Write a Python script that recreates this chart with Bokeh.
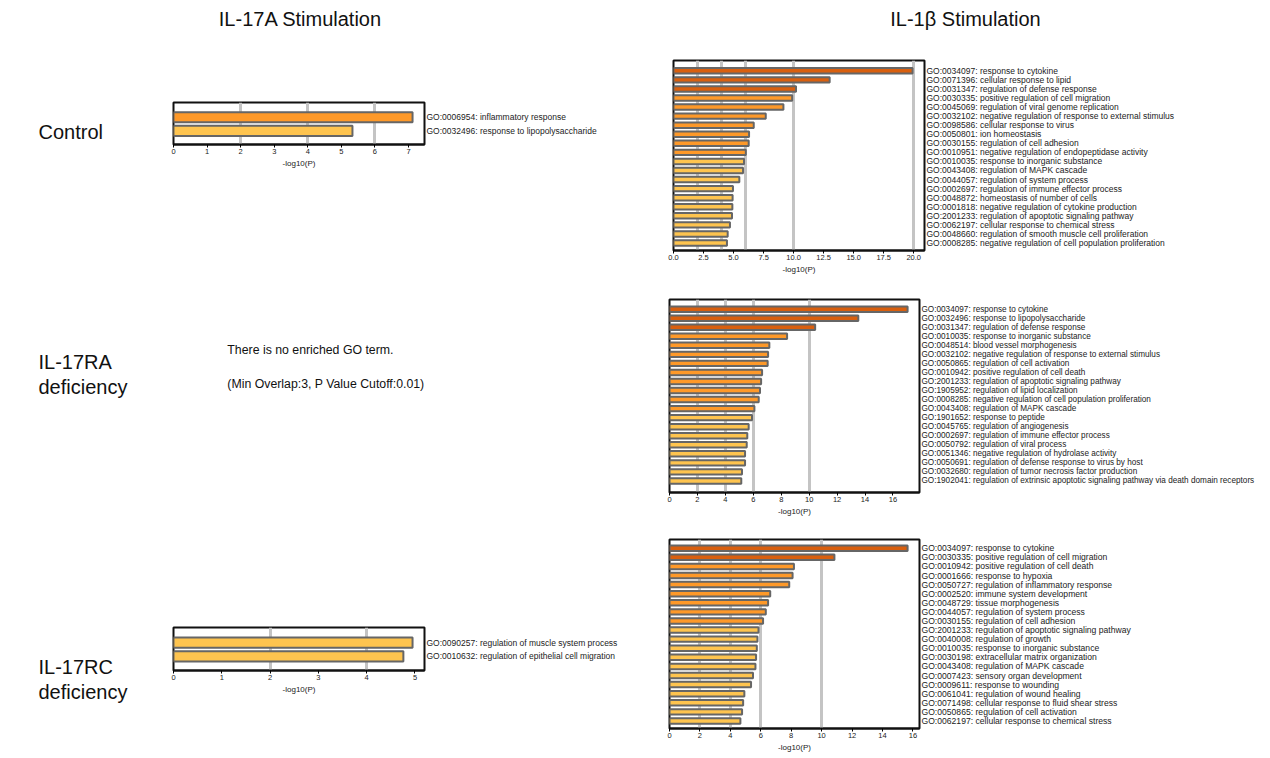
from bokeh.plotting import figure
from bokeh.layouts import row, column
from bokeh.models import (ColumnDataSource, Range1d, FixedTicker, Spacer,
                          SingleIntervalTicker, NumeralTickFormatter)
from bokeh.core.properties import value
from bokeh.embed import file_html
from bokeh.resources import INLINE

FONT = "Liberation Sans"

# ---------------- data ----------------
titles = ["IL-17A Stimulation", "IL-1β Stimulation"]
row_label_lines = ["Control", "IL-17RA", "deficiency", "IL-17RC", "deficiency"]
no_term_msg = ["There is no enriched GO term.", "(Min Overlap:3, P Value Cutoff:0.01)"]
axis_title = "-log10(P)"
grid_marks = [2, 4, 6, 10, 20]

ctrl_terms = ["GO:0006954: inflammatory response",
              "GO:0032496: response to lipopolysaccharide"]
ctrl_vals = [7.12, 5.33]

rc_terms = ["GO:0090257: regulation of muscle system process",
            "GO:0010632: regulation of epithelial cell migration"]
rc_vals = [4.95, 4.76]

il1b_ctrl_terms = [
    "GO:0034097: response to cytokine",
    "GO:0071396: cellular response to lipid",
    "GO:0031347: regulation of defense response",
    "GO:0030335: positive regulation of cell migration",
    "GO:0045069: regulation of viral genome replication",
    "GO:0032102: negative regulation of response to external stimulus",
    "GO:0098586: cellular response to virus",
    "GO:0050801: ion homeostasis",
    "GO:0030155: regulation of cell adhesion",
    "GO:0010951: negative regulation of endopeptidase activity",
    "GO:0010035: response to inorganic substance",
    "GO:0043408: regulation of MAPK cascade",
    "GO:0044057: regulation of system process",
    "GO:0002697: regulation of immune effector process",
    "GO:0048872: homeostasis of number of cells",
    "GO:0001818: negative regulation of cytokine production",
    "GO:2001233: regulation of apoptotic signaling pathway",
    "GO:0062197: cellular response to chemical stress",
    "GO:0048660: regulation of smooth muscle cell proliferation",
    "GO:0008285: negative regulation of cell population proliferation",
]
il1b_ctrl_vals = [19.9, 13.0, 10.2, 9.88, 9.15, 7.68, 6.68, 6.29, 6.26, 6.02,
                  5.87, 5.79, 5.48, 4.95, 4.92, 4.9, 4.87, 4.7, 4.51, 4.45]

il1b_ra_terms = [
    "GO:0034097: response to cytokine",
    "GO:0032496: response to lipopolysaccharide",
    "GO:0031347: regulation of defense response",
    "GO:0010035: response to inorganic substance",
    "GO:0048514: blood vessel morphogenesis",
    "GO:0032102: negative regulation of response to external stimulus",
    "GO:0050865: regulation of cell activation",
    "GO:0010942: positive regulation of cell death",
    "GO:2001233: regulation of apoptotic signaling pathway",
    "GO:1905952: regulation of lipid localization",
    "GO:0008285: negative regulation of cell population proliferation",
    "GO:0043408: regulation of MAPK cascade",
    "GO:1901652: response to peptide",
    "GO:0045765: regulation of angiogenesis",
    "GO:0002697: regulation of immune effector process",
    "GO:0050792: regulation of viral process",
    "GO:0051346: negative regulation of hydrolase activity",
    "GO:0050691: regulation of defense response to virus by host",
    "GO:0032680: regulation of tumor necrosis factor production",
    "GO:1902041: regulation of extrinsic apoptotic signaling pathway via death domain receptors",
]
il1b_ra_vals = [17.05, 13.52, 10.43, 8.42, 7.15, 7.06, 7.03, 6.63, 6.56, 6.48,
                6.39, 6.08, 5.91, 5.67, 5.57, 5.53, 5.41, 5.41, 5.19, 5.14]

il1b_rc_terms = [
    "GO:0034097: response to cytokine",
    "GO:0030335: positive regulation of cell migration",
    "GO:0010942: positive regulation of cell death",
    "GO:0001666: response to hypoxia",
    "GO:0050727: regulation of inflammatory response",
    "GO:0002520: immune system development",
    "GO:0048729: tissue morphogenesis",
    "GO:0044057: regulation of system process",
    "GO:0030155: regulation of cell adhesion",
    "GO:2001233: regulation of apoptotic signaling pathway",
    "GO:0040008: regulation of growth",
    "GO:0010035: response to inorganic substance",
    "GO:0030198: extracellular matrix organization",
    "GO:0043408: regulation of MAPK cascade",
    "GO:0007423: sensory organ development",
    "GO:0009611: response to wounding",
    "GO:0061041: regulation of wound healing",
    "GO:0071498: cellular response to fluid shear stress",
    "GO:0050865: regulation of cell activation",
    "GO:0062197: cellular response to chemical stress",
]
il1b_rc_vals = [15.65, 10.84, 8.18, 8.09, 7.87, 6.62, 6.48, 6.33, 6.15, 5.85,
                5.78, 5.74, 5.69, 5.65, 5.49, 5.36, 4.92, 4.84, 4.77, 4.66]

DARK, MID, LIGHT = "#D95F0E", "#FE9929", "#FEC44F"


def bar_chart(terms, vals, frame, mb, y_pad, tick_step, decimal, bar_h, label_px):
    n = len(vals)
    fw, fh = frame
    p = figure(width=mb[0] + fw + mb[1], height=mb[2] + fh + mb[3],
               frame_width=fw, frame_height=fh,
               output_backend="svg", toolbar_location=None,
               tools="", x_range=Range1d(0, max(vals) * 1.05),
               y_range=Range1d(n - 1 + y_pad[1], -y_pad[0]),
               y_axis_location="right",
               min_border_left=mb[0], min_border_right=mb[1],
               min_border_top=mb[2], min_border_bottom=mb[3])
    colors = [DARK if v > 10 else (MID if v >= 6 else LIGHT) for v in vals]
    src = ColumnDataSource(dict(y=list(range(n)), v=vals, c=colors))
    p.hbar(y="y", left=0, right="v", height=bar_h, fill_color="c",
           line_color="#666666", line_width=2, source=src)
    p.background_fill_color = "white"
    p.outline_line_color = "#111111"
    p.outline_line_width = 2
    p.ygrid.visible = False
    p.xgrid.ticker = FixedTicker(ticks=grid_marks)
    p.xgrid.grid_line_color = "#c4c4c4"
    p.xgrid.grid_line_width = 3

    xa = p.xaxis[0]
    xa.ticker = SingleIntervalTicker(interval=tick_step, num_minor_ticks=0)
    if decimal:
        xa.formatter = NumeralTickFormatter(format="0.0")
    xa.axis_label = axis_title
    xa.axis_label_text_font = FONT
    xa.axis_label_text_font_size = "8px"
    xa.axis_label_text_font_style = "normal"
    xa.axis_label_text_color = "#222222"
    xa.axis_label_standoff = 2
    xa.major_label_text_font = FONT
    xa.major_label_text_font_size = "7.5px"
    xa.major_label_text_color = "#222222"
    xa.major_label_standoff = 1
    xa.major_tick_out = 3
    xa.major_tick_in = 0
    xa.minor_tick_line_color = None
    xa.axis_line_color = "#111111"
    xa.axis_line_width = 2

    ya = p.yaxis[0]
    ya.ticker = FixedTicker(ticks=list(range(n)))
    ya.major_label_overrides = {i: t for i, t in enumerate(terms)}
    ya.axis_line_color = None
    ya.major_tick_line_color = None
    ya.minor_tick_line_color = None
    ya.major_tick_out = 0
    ya.major_tick_in = 0
    ya.major_label_standoff = 2
    ya.major_label_text_font = FONT
    ya.major_label_text_font_size = label_px
    ya.major_label_text_color = "#222222"
    return p


def text_fig(width, height):
    p = figure(width=width, height=height, output_backend="svg", toolbar_location=None,
               tools="", x_range=Range1d(0, width), y_range=Range1d(height, 0),
               x_axis_location=None, y_axis_location=None, min_border=0)
    p.outline_line_color = None
    p.xgrid.visible = False
    p.ygrid.visible = False
    return p


# titles
title_fig = text_fig(1264, 48)
title_fig.text(x=[300, 965], y=[18, 18], text=titles, text_font=value(FONT),
               text_font_size="20px", text_align="center", text_baseline="middle",
               text_color="#111111")

# row labels
labels_fig = text_fig(160, 704)
labels_fig.text(x=[38] * 5, y=[83, 313, 338, 618, 643], text=row_label_lines,
                text_font=value(FONT), text_font_size="20px", text_align="left",
                text_baseline="middle", text_color="#111111")

# left column charts
ctrl_fig = bar_chart(ctrl_terms, ctrl_vals, (251, 42), (13, 216, 54, 80),
                     (1.08, 1.0), 1, False, 0.735, "8.5px")
msg_fig = text_fig(480, 336)
msg_fig.text(x=[103, 103], y=[125, 159], text=no_term_msg, text_font=value(FONT),
             text_font_size="12.3px", text_align="left", text_baseline="middle",
             text_color="#111111")
rc_fig = bar_chart(rc_terms, rc_vals, (251, 43), (13, 216, 67, 82),
                   (1.1, 1.03), 1, False, 0.735, "8.5px")

# right column charts
p1 = bar_chart(il1b_ctrl_terms, il1b_ctrl_vals, (251, 190), (29, 340, 12, 26),
               (1.137, 0.83), 2.5, True, 0.6, "8.5px")
p2 = bar_chart(il1b_ra_terms, il1b_ra_vals, (250, 193), (29, 340, 23, 28),
               (1.07, 1.28), 2, False, 0.6, "8.2px")
p3 = bar_chart(il1b_rc_terms, il1b_rc_vals, (250, 189), (29, 340, 19, 24),
               (0.96, 0.83), 2, False, 0.6, "8.6px")

left_body = row(labels_fig, column(ctrl_fig, msg_fig, rc_fig))
right_body = column(row(Spacer(width=4, height=228), p1), p2, p3)
layout = column(title_fig, row(left_body, right_body))

open("out.html", "w").write(file_html(layout, INLINE))
